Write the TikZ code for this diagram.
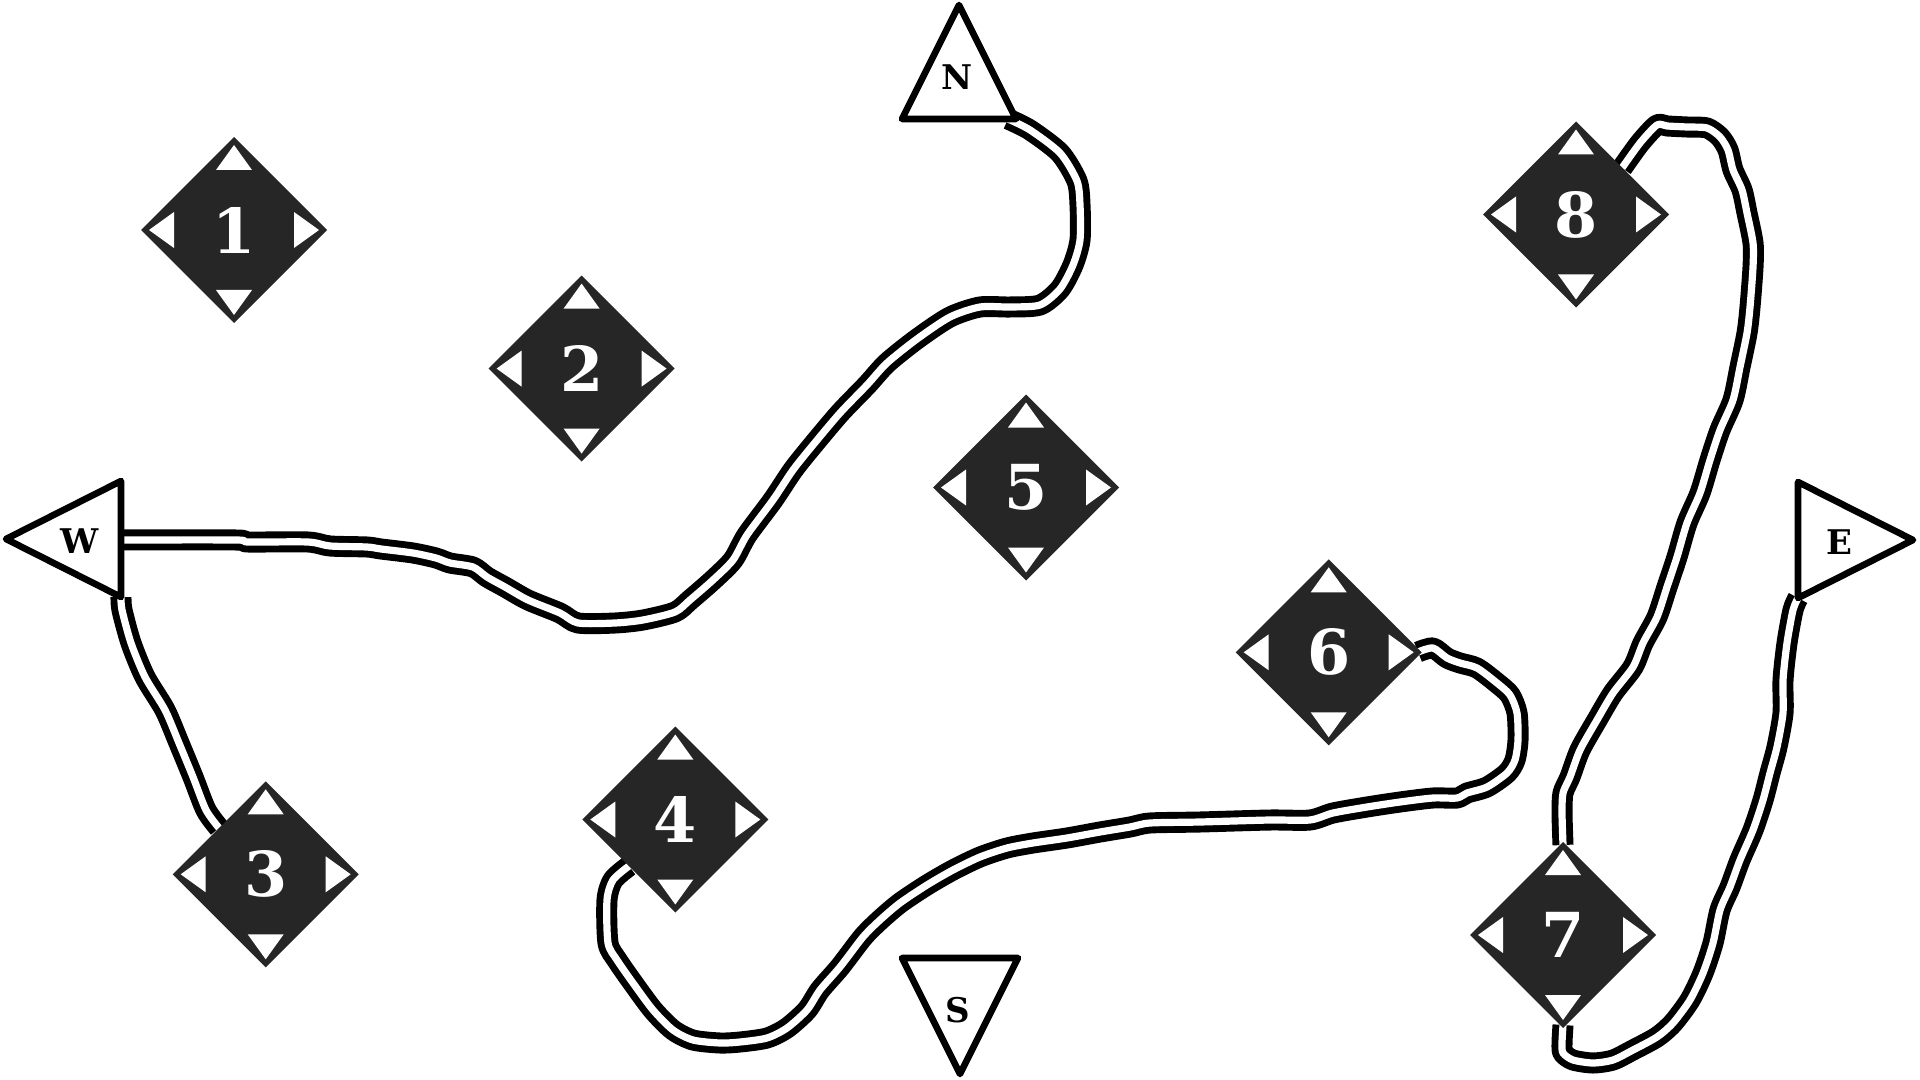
\documentclass[tikz,border=0pt]{standalone}
\usepackage{fontspec}
\setmainfont{DejaVu Serif}
\usetikzlibrary{shapes.geometric}
\definecolor{markfill}{RGB}{38,38,38}
\begin{document}
\begin{tikzpicture}[x=0.5pt,y=-0.5pt,
  road/.style={draw=black, line width=3.45pt, double=white, double distance=3.6pt, line join=round, line cap=butt},
  waypt/.style={shape=diamond, aspect=1, minimum size=92pt, inner sep=0pt,
    fill=markfill, draw=markfill, line width=1pt, text=white,
    font=\fontsize{31}{32}\selectfont\bfseries,
    path picture={
      \fill[white, shift={(path picture bounding box.center)}]
        (0,-85) -- (-18,-60) -- (18,-60) -- cycle
        (0,85) -- (-18,60) -- (18,60) -- cycle
        (-85,0) -- (-60,-18) -- (-60,18) -- cycle
        (85,0) -- (60,-18) -- (60,18) -- cycle;
    }},
  flag/.style={draw=black, fill=white, line width=3.3pt, line join=round},
  flaglabel/.style={font=\fontsize{17}{18}\selectfont\bfseries, inner sep=0pt, text=black}
]
\useasboundingbox (0,0) rectangle (1920,1080);

% flag corner coordinates
\coordinate (Na) at (959,5);   \coordinate (Nl) at (902,119);  \coordinate (Nr) at (1016,119);
\coordinate (Sl) at (902,958); \coordinate (Sr) at (1018,958); \coordinate (Sb) at (960,1074);
\coordinate (Wt) at (6,539);   \coordinate (Wu) at (121,481);  \coordinate (Wd) at (121,597);
\coordinate (Eu) at (1798,482);\coordinate (Ed) at (1798,598); \coordinate (Et) at (1913,540);
\coordinate (Wport) at (121,540);
\coordinate (Nport) at (1008,119);

% waypoint centres
\path
  (234,230)   coordinate (c1)
  (581.6,368.6) coordinate (c2)
  (265.7,874.3) coordinate (c3)
  (675.3,819.5) coordinate (c4)
  (1026,487.5) coordinate (c5)
  (1328.7,652.3) coordinate (c6)
  (1563,935)  coordinate (c7)
  (1576,214.5) coordinate (c8);

% roads
\draw[road] plot[smooth, tension=0.45] coordinates {(Wport) (236,540) (248,542) (308,542) (330,546) (367,547) (381,549) (413,553) (436,558) (450,563) (473,567) (487,577) (505,587) (528,600) (560,613) (578,623) (615,623) (643,620) (675,612) (690,600) (713,580) (733,560) (747,535) (773,500) (793,470) (813,445) (840,413) (867,385) (887,363) (917,339) (950,317) (980,307) (1010,307) (1040,305) (1060,289) (1073,265) (1080,240) (1080,205) (1077,181) (1060,153) (1030,130) (Nport)};

\draw[road] plot[smooth, tension=0.45] coordinates {(Wd) (122,610) (131,643) (145,677) (165,710) (179,743) (193,777) (206,810) (219,828)};

\draw[road] plot[smooth, tension=0.45] coordinates {(629,866) (613,880) (607,900) (608,943) (617,960) (633,983) (653,1010) (673,1030) (693,1040) (720,1043) (740,1042) (767,1038) (787,1028) (807,1010) (820,990) (840,967) (863,937) (880,920) (900,903) (927,885) (953,870) (980,857) (1007,848) (1033,843) (1067,838) (1100,832) (1130,827) (1150,823) (1200,822) (1270,820) (1310,820) (1333,813) (1367,807) (1400,802) (1433,798) (1457,798) (1467,793) (1487,787) (1507,773) (1515,760) (1518,740) (1517,713) (1510,695) (1497,683) (1477,668) (1460,663) (1447,658) (1433,648) (1418,652)};

\draw[road] plot[smooth, tension=0.45] coordinates {(1622,168) (1640,143) (1657,125) (1667,126) (1687,127) (1707,128) (1720,137) (1728,150) (1733,170) (1742,190) (1747,213) (1753,243) (1753,267) (1750,307) (1747,333) (1740,367) (1733,400) (1720,430) (1710,460) (1700,493) (1687,523) (1677,557) (1667,587) (1657,617) (1643,643) (1633,667) (1613,693) (1597,720) (1580,750) (1570,777) (1563,793) (1562,813) (1563,845)};

\draw[road] plot[smooth, tension=0.45] coordinates {(1563,1025) (1562,1043) (1563,1053) (1573,1060) (1593,1063) (1613,1060) (1633,1050) (1657,1037) (1673,1023) (1690,1000) (1703,973) (1713,943) (1720,910) (1730,887) (1740,860) (1753,830) (1763,800) (1770,773) (1777,747) (1783,713) (1783,680) (1787,643) (1793,610) (Ed)};

% flags
\draw[flag] (Na) -- (Nr) -- (Nl) -- cycle;
\draw[flag] (Sl) -- (Sr) -- (Sb) -- cycle;
\draw[flag] (Wt) -- (Wu) -- (Wd) -- cycle;
\draw[flag] (Eu) -- (Et) -- (Ed) -- cycle;
\node[flaglabel] (N) at (957,77) {N};
\node[flaglabel] (S) at (958,1010) {S};
\node[flaglabel] (W) at (80,541) {W};
\node[flaglabel] (E) at (1839,542) {E};

% waypoints
\node[waypt] (n1) at (c1) {1};
\node[waypt] (n2) at (c2) {2};
\node[waypt] (n3) at (c3) {3};
\node[waypt] (n4) at (c4) {4};
\node[waypt] (n5) at (c5) {5};
\node[waypt] (n6) at (c6) {6};
\node[waypt] (n7) at (c7) {7};
\node[waypt] (n8) at (c8) {8};
\end{tikzpicture}
\end{document}
